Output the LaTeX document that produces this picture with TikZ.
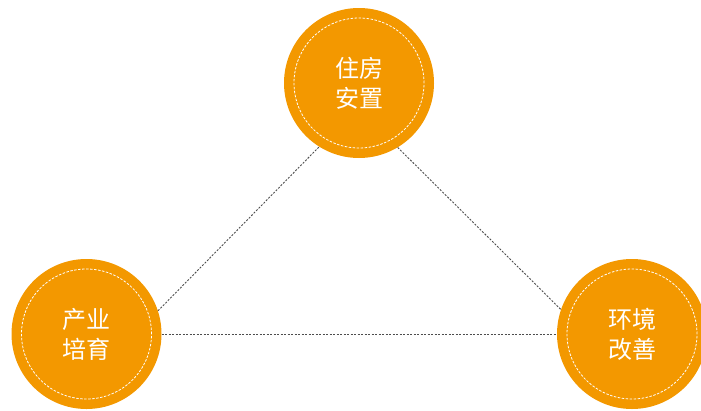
\documentclass[tikz,border=0pt]{standalone}
\usepackage{fontspec}
\newfontfamily\cjk{Noto Sans CJK SC}
\definecolor{orng}{HTML}{F39800}
\definecolor{lnk}{HTML}{4D4D4D}
\begin{document}
\begin{tikzpicture}[x=1pt,y=-1pt,
  bigc/.style={circle,fill=orng,minimum size=150pt,inner sep=0pt,
    font=\cjk\fontsize{24}{30}\selectfont,text=white,align=center},
  innerc/.style={draw=white,line width=0.8pt,dash pattern=on 2.5pt off 1.5pt},
  link/.style={draw=lnk,line width=0.9pt,dash pattern=on 2pt off 1.5pt}]
\useasboundingbox (0,0) rectangle (701,410);
\node[bigc] (t) at (359,83) {住房\\安置};
\node[bigc] (l) at (86.5,334) {产业\\培育};
\node[bigc] (r) at (632,334) {环境\\改善};
\draw[innerc] (t) circle (65pt);
\draw[innerc] (l) circle (65pt);
\draw[innerc] (r) circle (65pt);
\draw[link] (l.18.4) -- (t.238.6);
\draw[link] (t.-59) -- (r.161);
\draw[link] (l.east) -- (r.west);
\end{tikzpicture}
\end{document}
